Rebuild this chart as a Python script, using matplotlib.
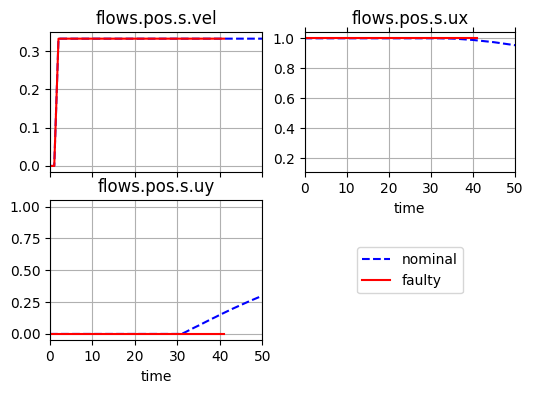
import matplotlib
matplotlib.use("Agg")
import matplotlib.pyplot as plt

# ---- data ----
time_nom = list(range(0, 51))
time_fault = list(range(0, 42))

vel_nom = [0.0, 0.0] + [0.333] * 49
vel_fault = [0.0, 0.0] + [0.333] * 40

ux_nom = [1.0] * 31 + [1.0, 1.0, 0.999, 0.999, 0.998, 0.997, 0.995, 0.993, 0.991, 0.989,
                       0.986, 0.983, 0.980, 0.977, 0.974, 0.970, 0.966, 0.962, 0.958, 0.954]
ux_fault = [1.0] * 42

uy_nom = [0.0] * 31 + [0.0, 0.016, 0.033, 0.05, 0.066, 0.083, 0.10, 0.117, 0.133, 0.15,
                       0.166, 0.182, 0.198, 0.213, 0.228, 0.243, 0.258, 0.272, 0.286, 0.30]
uy_fault = [0.0] * 42

titles = ["flows.pos.s.vel", "flows.pos.s.ux", "flows.pos.s.uy"]
xticks = [0, 10, 20, 30, 40, 50]

W, H = 534, 393
fig = plt.figure(figsize=(W / 100, H / 100), dpi=100)

def pos(l, t, r, b):
    return [l / W, 1 - b / H, (r - l) / W, (b - t) / H]

ax_vel = fig.add_axes(pos(50, 32.3, 262.3, 172.3))
ax_ux = fig.add_axes(pos(304.5, 32.3, 515, 172.3))
ax_uy = fig.add_axes(pos(50, 200.3, 262.3, 340.3), sharex=ax_vel)
ax_leg = fig.add_axes(pos(304.5, 200.3, 515, 340.3))
ax_leg.axis("off")

for ax, nom, fault, title in [(ax_vel, vel_nom, vel_fault, titles[0]),
                              (ax_ux, ux_nom, ux_fault, titles[1]),
                              (ax_uy, uy_nom, uy_fault, titles[2])]:
    ax.plot(time_nom, nom, "--", color="blue", label="nominal")
    ax.plot(time_fault, fault, "-", color="red", label="faulty")
    ax.set_title(title)
    ax.grid(True)
    ax.set_xlim(0, 50)
    ax.set_xticks(xticks)

ax_vel.tick_params(labelbottom=False)
ax_ux.set_ylim(0.107, 1.04)
ax_ux.set_yticks([0.2, 0.4, 0.6, 0.8, 1.0])
ax_ux.tick_params(top=True)
ax_ux.set_xlabel("time")
ax_uy.set_ylim(-0.05, 1.05)
ax_uy.set_yticks([0.0, 0.25, 0.5, 0.75, 1.0])
ax_uy.set_xlabel("time")

handles, labels = ax_vel.get_legend_handles_labels()
ax_leg.legend(handles, labels, loc="center")

fig.savefig("out.png", dpi=100)
